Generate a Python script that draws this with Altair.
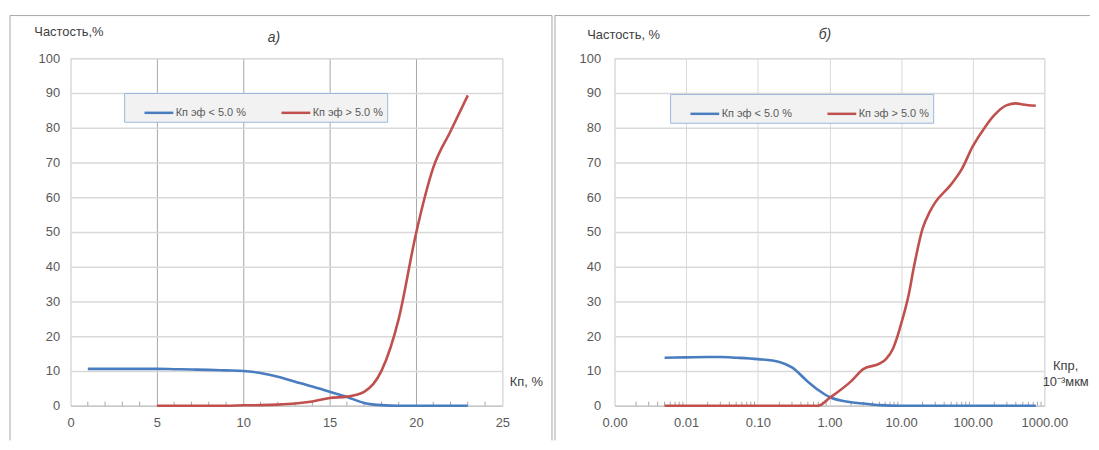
import altair as alt
import pandas as pd

# ---------------- data ----------------
SER_LO = "Кп эф < 5.0 %"
SER_HI = "Кп эф > 5.0 %"

# panel а): x = Кп, %
a_lo_x = [1, 2, 3, 4, 5, 6, 7, 8, 9, 10, 11, 12, 13, 14, 15, 16, 17, 18, 19, 20, 21, 22, 23]
a_lo_y = [10.6, 10.6, 10.6, 10.6, 10.6, 10.5, 10.4, 10.3, 10.15, 10.0, 9.4, 8.3, 6.9, 5.5,
          4.0, 2.5, 0.8, 0.15, 0.0, 0.0, 0.0, 0.0, 0.0]
a_hi_x = [5, 6, 7, 8, 9, 10, 11, 12, 13, 14, 15, 16, 17, 18, 19, 20, 21, 22, 23]
a_hi_y = [0.0, 0.0, 0.0, 0.0, 0.0, 0.1, 0.15, 0.3, 0.6, 1.2, 2.2, 2.6, 4.0, 10.0, 25.0,
          49.5, 68.5, 79.0, 89.3]

# panel б): x = Кпр, 10^-3 мкм (log)
b_lo_x = [0.005, 0.01, 0.02, 0.03, 0.05, 0.1, 0.2, 0.3, 0.5, 0.7, 1.0, 2.0, 3.0, 5.0,
          10, 20, 50, 100, 200, 500, 760]
b_lo_y = [13.8, 13.9, 14.0, 14.0, 13.8, 13.4, 12.6, 11.0, 6.9, 4.5, 2.5, 1.0, 0.6, 0.15,
          0.0, 0.0, 0.0, 0.0, 0.0, 0.0, 0.0]
b_hi_x = [0.005, 0.01, 0.02, 0.05, 0.1, 0.2, 0.3, 0.7, 1.0, 2.0, 3.0, 5.0, 6.2, 7.7,
          9.1, 10, 12.8, 15, 20, 25, 30, 50, 70, 100, 150, 200, 300, 400, 500, 760]
b_hi_y = [0.0, 0.0, 0.0, 0.0, 0.0, 0.0, 0.0, 0.0, 2.2, 7.0, 10.6, 12.1, 13.5, 16.4,
          20.6, 23.5, 32.0, 39.6, 51.0, 55.7, 58.5, 63.7, 68.0, 74.6, 80.3, 83.6, 86.5,
          87.0, 86.7, 86.3]

a_major = [0, 5, 10, 15, 20, 25]
a_minor = [v for v in range(1, 25) if v % 5 != 0]
b_major = [0.001, 0.01, 0.1, 1, 10, 100, 1000]
b_minor = [m * 10.0 ** d for d in range(-3, 3) for m in range(2, 10)]
y_ticks = list(range(0, 101, 10))

BLUE = "#4a7dbf"
RED = "#c0504d"
FRAME = "#a6a6a6"
GRID = "#d9d9d9"

W_A, W_B, H = 435, 433, 350


def long_df(lo_x, lo_y, hi_x, hi_y):
    return pd.concat([
        pd.DataFrame({"x": lo_x, "y": lo_y, "series": SER_LO}),
        pd.DataFrame({"x": hi_x, "y": hi_y, "series": SER_HI}),
    ], ignore_index=True)


df_a = long_df(a_lo_x, a_lo_y, a_hi_x, a_hi_y)
df_b = long_df(b_lo_x, b_lo_y, b_hi_x, b_hi_y)
one = pd.DataFrame({"k": [0]})


def legend(lx, ly):
    return alt.Legend(
        orient="none", legendX=lx, legendY=ly, direction="horizontal", title=None,
        fillColor="#f2f2f2", strokeColor="#9ab8dc", padding=4,
        symbolType="stroke", symbolSize=841, symbolStrokeWidth=2.5,
        symbolOffset=15, labelOffset=1, columnPadding=19,
        labelFontSize=11, labelColor="#595959",
    )


def y_enc(title, tx, ty, pad):
    return alt.Y(
        "y:Q", scale=alt.Scale(domain=[0, 100], nice=False),
        axis=alt.Axis(values=y_ticks, domain=False, ticks=False, labelPadding=pad,
                      gridColor=GRID, gridWidth=1.5, title=title, titleAngle=0,
                      titleAlign="left", titleBaseline="middle", titleX=tx, titleY=ty),
    )


color_scale = alt.Scale(domain=[SER_LO, SER_HI], range=[BLUE, RED])


def frame(x_left, x_right, top, bottom, full_right=True):
    parts = [
        alt.Chart(one).mark_rule(color=FRAME, strokeWidth=1).encode(
            x=alt.value(x_left), y=alt.value(top), y2=alt.value(bottom)),
        alt.Chart(one).mark_rule(color=FRAME, strokeWidth=1).encode(
            x=alt.value(x_left), x2=alt.value(x_right), y=alt.value(top)),
    ]
    if full_right:
        parts.append(alt.Chart(one).mark_rule(color=FRAME, strokeWidth=1).encode(
            x=alt.value(x_right), y=alt.value(top), y2=alt.value(bottom)))
    return parts


# ---------------- panel а) ----------------
xa_scale = alt.Scale(domain=[0, 25], nice=False)
xa_axis = alt.Axis(
    values=a_major, ticks=False, domainColor="#bfbfbf", labelPadding=11, labelFlush=False,
    gridColor=alt.condition("datum.value == 0 || datum.value == 25",
                            alt.value(GRID), alt.value("#a6a6a6")),
    title="Кп, %", titleAngle=0, titleAlign="left", titleBaseline="middle",
    titleX=442, titleY=-24)
lines_a = alt.Chart(df_a).mark_line(interpolate="monotone", strokeWidth=2.6).encode(
    x=alt.X("x:Q", scale=xa_scale, axis=xa_axis),
    y=y_enc("Частость,%", -37, -27, 11),
    color=alt.Color("series:N", scale=color_scale, legend=legend(54, 35)),
)
minor_a = alt.Chart(pd.DataFrame({"x": a_minor})).mark_rule(color="#a6a6a6").encode(
    x=alt.X("x:Q", scale=xa_scale, axis=xa_axis), y=alt.value(H), y2=alt.value(H - 4))
label_a = alt.Chart(one).mark_text(fontSize=14, fontStyle="italic", color="#404040").encode(
    x=alt.value(205), y=alt.value(-20), text=alt.value("а)"))

panel_a = alt.layer(*frame(-61, 485, -43, 385), minor_a, lines_a, label_a).properties(
    width=W_A, height=H)

# ---------------- panel б) ----------------
xb_scale = alt.Scale(type="log", domain=[0.001, 1000], nice=False)
xb_axis = alt.Axis(
    values=b_major, ticks=False, domainColor="#bfbfbf", labelPadding=11, labelFlush=False,
    labelExpr="format(datum.value, '.2f')", gridColor=GRID,
    title=["Кпр,", "10⁻³мкм"], titleAngle=0, titleAlign="center",
    titleBaseline="top", titleLineHeight=16, titleX=454, titleY=-46)
lines_b = alt.Chart(df_b).mark_line(interpolate="monotone", strokeWidth=2.6).encode(
    x=alt.X("x:Q", scale=xb_scale, axis=xb_axis),
    y=y_enc("Частость, %", -28, -24, 14),
    color=alt.Color("series:N", scale=color_scale, legend=legend(56, 36)),
)
minor_b = alt.Chart(pd.DataFrame({"x": b_minor})).mark_rule(color="#a6a6a6").encode(
    x=alt.X("x:Q", scale=xb_scale, axis=xb_axis), y=alt.value(H), y2=alt.value(H - 4))
label_b = alt.Chart(one).mark_text(fontSize=14, fontStyle="italic", color="#404040").encode(
    x=alt.value(212), y=alt.value(-23), text=alt.value("б)"))

panel_b = alt.layer(*frame(-60, 479, -43, 385, full_right=False), minor_b, lines_b,
                    label_b).properties(width=W_B, height=H)

chart = (
    alt.hconcat(panel_a, panel_b, spacing=113, bounds="flush")
    .resolve_scale(color="independent", x="independent", y="independent")
    .resolve_legend(color="independent")
    .properties(padding={"left": 1, "top": 5, "right": 0, "bottom": 0})
    .configure(font="Liberation Sans")
    .configure_view(stroke=GRID)
    .configure_axis(labelColor="#595959", labelFontSize=13, titleFontWeight="normal",
                    titleColor="#404040", titleFontSize=13)
)

chart.save("out.html", embed_options={"renderer": "svg", "actions": False})
